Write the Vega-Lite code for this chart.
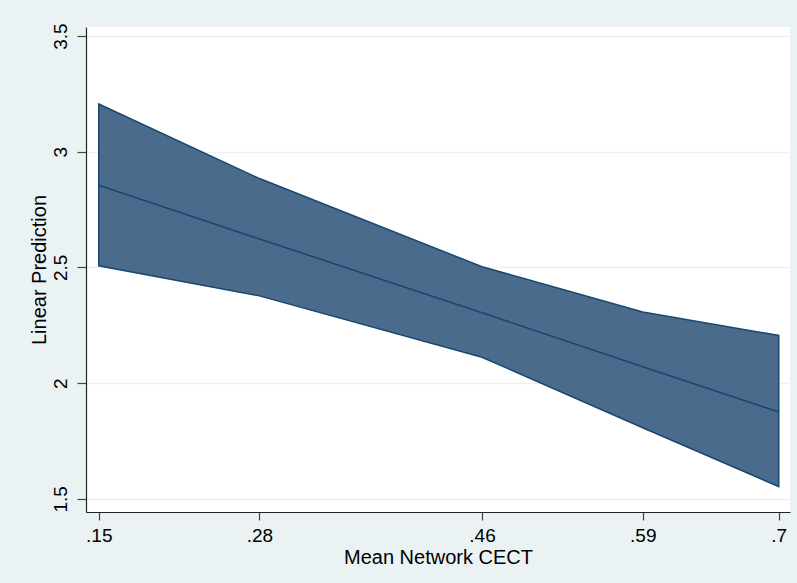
{
  "$schema": "https://vega.github.io/schema/vega-lite/v6.json",
  "width": 704,
  "height": 485,
  "autosize": {"type": "none"},
  "padding": {"left": 86, "top": 27, "right": 7, "bottom": 71},
  "background": "#EAF2F3",
  "config": {
    "view": {"fill": "white", "stroke": null},
    "font": "Liberation Sans",
    "axis": {
      "labelFont": "Liberation Sans",
      "titleFont": "Liberation Sans",
      "labelFontSize": 19,
      "titleFontSize": 20,
      "titleFontWeight": "normal",
      "labelColor": "#000000",
      "titleColor": "#000000",
      "domainColor": "#222222",
      "domainWidth": 1.2,
      "tickColor": "#444444",
      "tickWidth": 1.2,
      "gridColor": "#EAF2F3",
      "gridWidth": 1.5
    }
  },
  "data": {
    "values": [
      {"x": 0.15, "lo": 2.507, "hi": 3.206, "fit": 2.855},
      {"x": 0.28, "lo": 2.377, "hi": 2.884, "fit": 2.623},
      {"x": 0.46, "lo": 2.112, "hi": 2.503, "fit": 2.304},
      {"x": 0.59, "lo": 1.807, "hi": 2.307, "fit": 2.071},
      {"x": 0.7, "lo": 1.553, "hi": 2.206, "fit": 1.875}
    ]
  },
  "encoding": {
    "x": {
      "field": "x",
      "type": "quantitative",
      "scale": {"domain": [0.1397, 0.7091], "nice": false, "zero": false},
      "axis": {
        "title": "Mean Network CECT",
        "values": [0.15, 0.28, 0.46, 0.59, 0.7],
        "labelExpr": "replace(format(datum.value, '.2~f'), '0.', '.')",
        "grid": false,
        "tickSize": 8,
        "labelPadding": 6,
        "titlePadding": 2,
        "labelFlush": false
      }
    }
  },
  "layer": [
    {
      "mark": {"type": "area", "fill": "#4A6B8B", "fillOpacity": 1, "stroke": "#1A476F", "strokeWidth": 1.5},
      "encoding": {
        "y": {
          "field": "hi",
          "type": "quantitative",
          "scale": {"domain": [1.443, 3.539], "nice": false, "zero": false},
          "axis": {
            "title": "Linear Prediction",
            "values": [1.5, 2, 2.5, 3, 3.5],
            "format": "~g",
            "labelAngle": -90,
            "labelAlign": "center",
            "labelBaseline": "bottom",
            "labelPadding": 7,
            "tickSize": 9,
            "titlePadding": 2,
            "grid": true,
            "labelFlush": false
          }
        },
        "y2": {"field": "lo"}
      }
    },
    {
      "mark": {"type": "line", "stroke": "#1A476F", "strokeWidth": 1.6},
      "encoding": {
        "y": {"field": "fit", "type": "quantitative"}
      }
    }
  ]
}
